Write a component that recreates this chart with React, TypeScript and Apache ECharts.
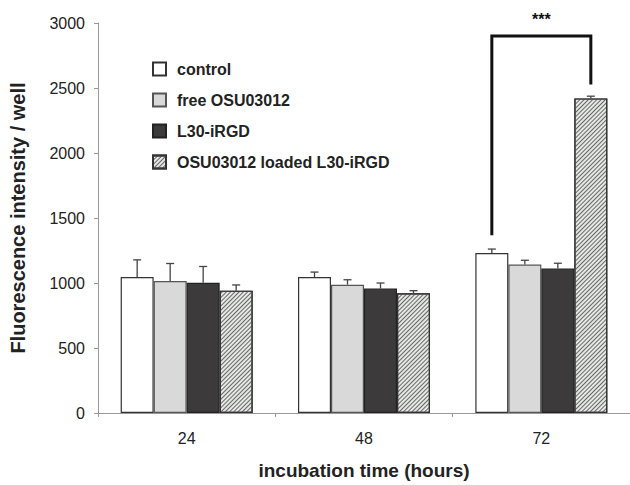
import React, { useEffect, useRef } from "react";
import * as echarts from "echarts";

const categories = ["24", "48", "72"];
const seriesNames = ["control", "free OSU03012", "L30-iRGD", "OSU03012 loaded L30-iRGD"];
const controlValues = [1046, 1046, 1231];
const freeValues = [1015, 987, 1142];
const l30Values = [1002, 957, 1111];
const loadedValues = [941, 921, 2420];
const controlErr = [132, 38, 30];
const freeErr = [135, 38, 33];
const l30Err = [125, 43, 41];
const loadedErr = [44, 20, 17];
const yTicks = { min: 0, max: 3000, interval: 500 };
// significance bracket: category index, left series, right series, left foot, top, right foot
const bracket = { cat: 2, from: 0, to: 3, leftFoot: 1368, top: 2900, rightFoot: 2527, label: "***" };

const FONT = "'Liberation Sans', Arial, Helvetica, sans-serif";
const BAR_W = 33;

export default function App() {
  const ref = useRef<HTMLDivElement>(null);
  useEffect(() => {
    if (!ref.current) return;
    const chart = echarts.init(ref.current, undefined, { renderer: "svg" });
    const values = [controlValues, freeValues, l30Values, loadedValues];
    const errs = [controlErr, freeErr, l30Err, loadedErr];
    const styles: any[] = [
      { color: "#ffffff", borderColor: "#333333", borderWidth: 1.2 },
      { color: "#d9d9d9", borderColor: "#555555", borderWidth: 1.2 },
      { color: "#3d3a3c", borderColor: "#222222", borderWidth: 1.2 },
      {
        color: "#e6e8e6",
        borderColor: "#333333",
        borderWidth: 1.2,
        decal: {
          symbol: "rect",
          symbolSize: 1,
          color: "#666666",
          dashArrayX: [1, 0],
          dashArrayY: [1, 1.6],
          rotation: -Math.PI / 4,
        },
      },
    ];
    const barSeries = values.map((v, i) => ({
      type: "bar",
      name: seriesNames[i],
      data: v,
      barWidth: BAR_W,
      barGap: "0%",
      itemStyle: styles[i],
      z: 2,
    }));
    const errSeries = values.map((v, i) => ({
      type: "custom",
      name: seriesNames[i] + " err",
      data: v.map((val, k) => [k, val, val + errs[i][k]]),
      z: 3,
      renderItem: (params: any, api: any) => {
        const c = api.value(0);
        const lo = api.coord([c, api.value(1)]);
        const hi = api.coord([c, api.value(2)]);
        const x = lo[0] + (i - 1.5) * BAR_W;
        const cap = 4;
        return {
          type: "group",
          children: [
            { type: "line", shape: { x1: x, y1: lo[1], x2: x, y2: hi[1] }, style: { stroke: "#444", lineWidth: 1.3 } },
            { type: "line", shape: { x1: x - cap, y1: hi[1], x2: x + cap, y2: hi[1] }, style: { stroke: "#444", lineWidth: 1.3 } },
          ],
        };
      },
    }));
    const bracketSeries = {
      type: "custom",
      name: "significance",
      data: [[bracket.cat, bracket.leftFoot, bracket.top, bracket.rightFoot]],
      z: 4,
      renderItem: (params: any, api: any) => {
        const c = api.value(0);
        const pL = api.coord([c, api.value(1)]);
        const pT = api.coord([c, api.value(2)]);
        const pR = api.coord([c, api.value(3)]);
        const xl = pL[0] + (bracket.from - 1.5) * BAR_W;
        const xr = pL[0] + (bracket.to - 1.5) * BAR_W;
        return {
          type: "group",
          children: [
            {
              type: "polyline",
              shape: { points: [[xl, pL[1]], [xl, pT[1]], [xr, pT[1]], [xr, pR[1]]] },
              style: { stroke: "#111", lineWidth: 3, fill: "none" },
            },
            {
              type: "text",
              style: {
                text: bracket.label,
                x: (xl + xr) / 2,
                y: pT[1] - 17,
                align: "center",
                verticalAlign: "middle",
                font: `bold 16px ${FONT}`,
                fill: "#111",
              },
            },
          ],
        };
      },
    };
    chart.setOption({
      animation: false,
      backgroundColor: "#ffffff",
      textStyle: { fontFamily: FONT },
      grid: { left: 97, right: -8, top: 23, bottom: 70, containLabel: false },
      legend: {
        data: seriesNames,
        orient: "vertical",
        left: 147,
        top: 56,
        itemWidth: 13,
        itemHeight: 13,
        itemGap: 15,
        icon: "rect",
        textStyle: { fontFamily: FONT, fontSize: 16, fontWeight: "bold", color: "#222", padding: [0, 0, 0, 6] },
      },
      xAxis: {
        type: "category",
        data: categories,
        axisLine: { lineStyle: { color: "#999", width: 1 } },
        axisTick: { show: true, length: 4, lineStyle: { color: "#999" } },
        axisLabel: { fontSize: 16, color: "#222", margin: 17, fontFamily: FONT },
        name: "incubation time (hours)",
        nameLocation: "middle",
        nameGap: 48,
        nameTextStyle: { fontSize: 19, fontWeight: "bold", color: "#222", fontFamily: FONT },
      },
      yAxis: {
        type: "value",
        min: yTicks.min,
        max: yTicks.max,
        interval: yTicks.interval,
        splitLine: { show: false },
        axisLine: { show: true, lineStyle: { color: "#999", width: 1 } },
        axisTick: { show: true, length: 4, lineStyle: { color: "#999" } },
        axisLabel: { fontSize: 16, color: "#222", margin: 13, fontFamily: FONT, formatter: (v: number) => String(v) },
        name: "Fluorescence intensity / well",
        nameLocation: "middle",
        nameGap: 70,
        nameTextStyle: { fontSize: 20, fontWeight: "bold", color: "#222", fontFamily: FONT },
      },
      series: [...barSeries, ...errSeries, bracketSeries],
    });
    return () => chart.dispose();
  }, []);
  return <div ref={ref} style={{ width: 630, height: 485, position: "absolute", left: 0, top: 0 }} />;
}
